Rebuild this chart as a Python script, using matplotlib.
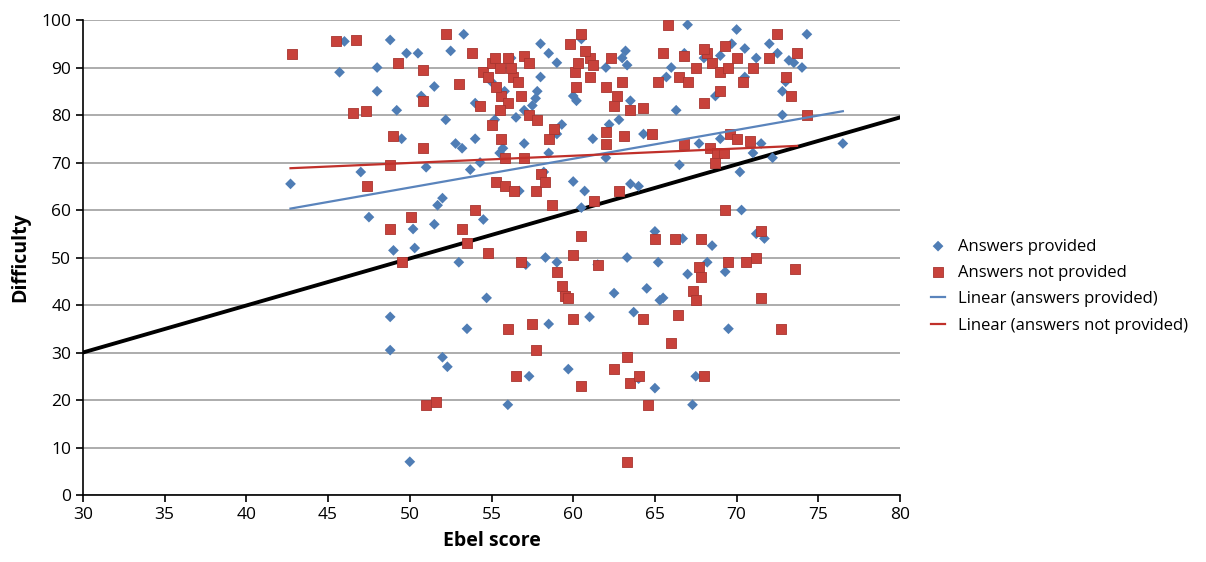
import numpy as np
import matplotlib.pyplot as plt

plt.rcParams['font.family'] = ['Open Sans', 'DejaVu Sans']

# answers provided (blue diamonds)
prov_x = [42.7, 45.7, 46.0, 47.0, 47.5, 48.0, 48.0, 48.8, 48.8, 48.8, 49.0, 49.2, 49.5, 49.8,
          50.0, 50.2, 50.5, 50.3, 50.7, 51.0, 51.5, 51.5, 51.7, 52.0, 52.2, 52.0, 52.3, 52.5,
          52.8, 53.0, 53.2, 53.3, 53.5, 53.7, 54.0, 54.0, 54.3, 54.5, 54.7, 55.0, 55.2, 55.5,
          55.7, 56.0, 56.2, 56.5, 56.7, 57.0, 57.1, 57.3, 57.5, 57.7, 57.8, 58.0, 58.0, 58.2,
          58.3, 58.5, 58.5, 59.0, 59.0, 59.3, 59.5, 59.7, 60.0, 60.0, 60.2, 60.5, 60.5, 60.7,
          61.0, 61.2, 61.5, 62.0, 62.0, 62.2, 62.5, 62.8, 63.0, 63.2, 63.3, 63.3, 63.5, 63.5,
          63.7, 64.0, 64.0, 64.3, 64.5, 65.0, 65.0, 65.2, 65.3, 65.5, 65.7, 66.0, 66.3, 66.5,
          66.7, 67.0, 67.0, 67.3, 67.5, 67.7, 68.0, 68.2, 68.5, 68.7, 69.0, 69.3, 69.5, 69.7,
          70.0, 70.2, 70.3, 70.5, 71.0, 71.2, 71.5, 71.7, 72.0, 72.2, 72.5, 72.8, 73.0, 73.5,
          74.0, 74.3, 76.5, 58.5, 59.0, 66.8, 69.0, 71.2, 70.5, 72.8, 73.2, 57.0, 55.8]
prov_y = [65.5, 89, 95.5, 68, 58.5, 85, 90, 95.8, 37.5, 30.5, 51.5, 81, 75, 93,
          7, 56, 93, 52, 84, 69, 86, 57, 61, 62.5, 79, 29, 27, 93.5,
          74, 49, 73, 97, 35, 68.5, 82.5, 75, 70, 58, 41.5, 87, 79, 72,
          73, 19, 92, 79.5, 64, 74, 48.5, 25, 82, 83.5, 85, 95, 88, 68,
          50, 36, 72, 76, 49, 78, 42.5, 26.5, 84, 66, 83, 96, 60.5, 64,
          37.5, 75, 48.5, 90, 71, 78, 42.5, 79, 92, 93.5, 90.5, 50, 83, 65.5,
          38.5, 24.5, 65, 76, 43.5, 22.5, 55.5, 49, 41, 41.5, 88, 90, 81, 69.5,
          54, 99, 46.5, 19, 25, 74, 92, 49, 52.5, 84, 75, 47, 35, 95,
          98, 68, 60, 88, 72, 55, 74, 54, 95, 71, 93, 80, 87, 91,
          90, 97, 74, 93, 91, 93, 92.5, 92, 94, 85, 91.5, 81, 85]

# answers not provided (red squares)
notp_x = [42.8, 45.5, 46.5, 46.7, 47.3, 47.4, 48.8, 48.8, 49.0, 49.3, 49.5, 50.1, 50.8, 50.8,
          50.8, 51.0, 51.6, 52.2, 53.2, 53.5, 53.8, 54.0, 54.3, 54.5, 54.8, 55.0, 55.0, 55.2,
          55.3, 55.5, 55.6, 55.6, 55.8, 55.8, 56.0, 56.0, 56.3, 56.4, 56.5, 56.6, 56.8, 56.8,
          57.0, 57.3, 57.5, 57.7, 57.7, 58.0, 58.3, 58.5, 58.7, 59.0, 59.3, 59.5, 59.7, 59.8,
          60.0, 60.0, 60.1, 60.2, 60.5, 60.5, 60.5, 61.0, 61.0, 61.3, 61.5, 62.0, 62.0, 62.3,
          62.5, 62.5, 62.7, 62.8, 63.1, 63.3, 63.3, 63.5, 63.5, 64.0, 64.3, 64.3, 64.6, 64.8,
          65.0, 65.2, 65.5, 65.8, 66.0, 66.2, 66.4, 66.5, 66.8, 67.0, 67.3, 67.5, 67.7, 67.8,
          67.8, 68.0, 68.0, 68.2, 68.4, 68.7, 68.8, 69.0, 69.2, 69.3, 69.5, 69.6, 70.0, 70.4,
          70.6, 70.8, 71.0, 71.2, 71.5, 71.5, 72.0, 72.5, 72.7, 73.0, 73.3, 73.6, 73.7, 74.3,
          54.8, 55.3, 56.2, 57.0, 57.3, 56.0, 55.5, 60.3, 60.7, 61.2, 66.8, 67.5, 68.0, 68.5,
          69.0, 69.5, 70.0, 69.3, 57.8, 58.8, 53.0, 62.0, 63.0]
notp_y = [92.8, 95.5, 80.5, 95.8, 80.8, 65, 56, 69.5, 75.5, 91, 49, 58.5, 89.5, 83,
          73, 19, 19.5, 97, 56, 53, 93, 60, 82, 89, 51, 78, 91, 92,
          66, 90, 84, 75, 65, 71, 92, 35, 88, 64, 25, 87, 49, 84,
          71, 80, 36, 64, 30.5, 67.5, 66, 75, 61, 47, 44, 42, 41.5, 95,
          50.5, 37, 89, 86, 23, 97, 54.5, 92, 88, 62, 48.5, 74, 76.5, 92,
          26.5, 82, 84, 64, 75.5, 29, 7, 23.5, 81, 25, 37, 81.5, 19, 76,
          54, 87, 93, 99, 32, 54, 38, 88, 74, 87, 43, 41, 48, 46,
          54, 25, 82.5, 93, 73, 70, 72, 85, 72, 60, 49, 76, 75, 87,
          49, 74.5, 90, 50, 55.5, 41.5, 92, 97, 35, 88, 84, 47.5, 93, 80,
          88, 86, 90, 92.5, 91, 82.5, 81, 91, 93.5, 90.5, 92.5, 90, 94, 91,
          89, 90, 92, 94.5, 79, 77, 86.5, 86, 87]

# trend lines (endpoints)
fit_prov_x = [42.7, 76.5]
fit_prov_y = [60.3, 80.8]
fit_notp_x = [42.7, 73.7]
fit_notp_y = [68.8, 73.5]
ref_x = [30, 80]
ref_y = [30, 79.5]

blue = '#4F7DB5'
red = '#C8423B'

fig = plt.figure(figsize=(12.06, 5.62), dpi=100)
ax = fig.add_axes([0.0688, 0.1192, 0.6775, 0.8452])

ax.plot(ref_x, ref_y, color='black', lw=2.8, zorder=2)
ax.scatter(prov_x, prov_y, marker='D', s=30, color=blue, edgecolors='none',
           zorder=3, label='Answers provided')
ax.scatter(notp_x, notp_y, marker='s', s=55, color=red, edgecolors='#A83530',
           linewidths=0.6, zorder=3, label='Answers not provided')
ax.plot(fit_prov_x, fit_prov_y, color='#5A84BC', lw=1.6, zorder=4, label='Linear (answers provided)')
ax.plot(fit_notp_x, fit_notp_y, color='#C0302A', lw=1.6, zorder=4, label='Linear (answers not provided)')

ax.set_xlim(30, 80)
ax.set_ylim(0, 100)
ax.set_xticks(np.arange(30, 81, 5))
ax.set_yticks(np.arange(0, 101, 10))
ax.yaxis.grid(True, color='#A6A6A6', lw=1.3)
ax.set_axisbelow(True)
for s in ['top', 'right']:
    ax.spines[s].set_visible(False)
ax.spines['left'].set_linewidth(1.2)
ax.spines['bottom'].set_linewidth(1.2)
ax.tick_params(axis='both', labelsize=12.5, color='black', width=1.2, length=5)
ax.set_xlabel('Ebel score', fontsize=14, fontweight='bold', labelpad=6)
ax.set_ylabel('Difficulty', fontsize=14, fontweight='bold', labelpad=8)

ax.legend(loc='center left', bbox_to_anchor=(1.02, 0.44), frameon=False, fontsize=12,
          handlelength=0.8, handletextpad=0.8, labelspacing=0.62, markerscale=1.0)

fig.savefig('out.png', dpi=100)
